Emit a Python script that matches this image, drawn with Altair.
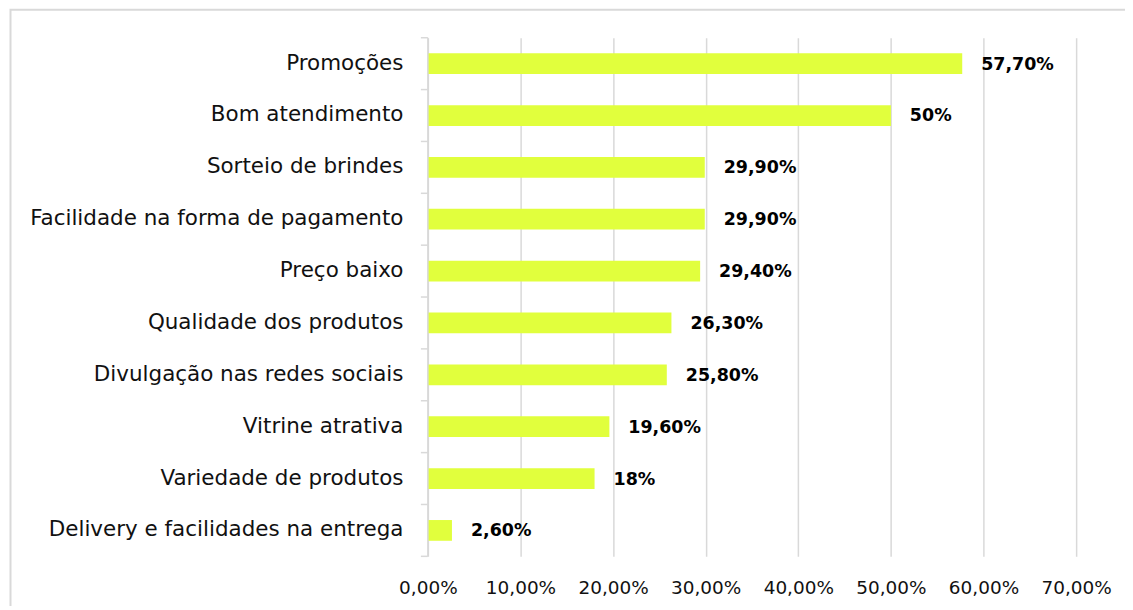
import altair as alt
import pandas as pd

categories = [
    "Promoções",
    "Bom atendimento",
    "Sorteio de brindes",
    "Facilidade na forma de pagamento",
    "Preço baixo",
    "Qualidade dos produtos",
    "Divulgação nas redes sociais",
    "Vitrine atrativa",
    "Variedade de produtos",
    "Delivery e facilidades na entrega",
]
values = [57.7, 50.0, 29.9, 29.9, 29.4, 26.3, 25.8, 19.6, 18.0, 2.6]
value_labels = ["57,70%", "50%", "29,90%", "29,90%", "29,40%", "26,30%",
                "25,80%", "19,60%", "18%", "2,60%"]
x_ticks = [0, 10, 20, 30, 40, 50, 60, 70]

df = pd.DataFrame({"cat": categories, "val": values, "lab": value_labels})

GRAY = "#d9d9d9"
BAR = "#E1FF3D"
FONT = "DejaVu Sans"

y_enc = alt.Y(
    "cat:N",
    sort=categories,
    title=None,
    scale=alt.Scale(paddingInner=0.6, paddingOuter=0.3),
    axis=alt.Axis(
        grid=False,
        domain=False,
        ticks=False,
        labelPadding=25,
        labelFont=FONT,
        labelFontSize=21.5,
        labelColor="#111111",
        labelLimit=600,
    ),
)

x_enc = alt.X(
    "val:Q",
    title=None,
    scale=alt.Scale(domain=[0, 70], nice=False, zero=True),
    axis=alt.Axis(
        values=x_ticks,
        grid=True,
        gridColor=GRAY,
        gridWidth=1.5,
        domain=False,
        ticks=False,
        labelPadding=22,
        labelFlush=False,
        labelOverlap=False,
        labelFont=FONT,
        labelFontSize=18.5,
        labelColor="#111111",
        labelExpr="replace(format(datum.value, '.2f'), '.', ',') + '%'",
    ),
)

base = alt.Chart(df)

bars = base.mark_bar(color=BAR).encode(x=x_enc, y=y_enc)

text = base.mark_text(
    align="left", baseline="middle", dx=19, dy=1,
    font=FONT, fontSize=17.5, fontWeight="bold", color="#000000"
).encode(x="val:Q", y=alt.Y("cat:N", sort=categories), text="lab:N")

one = pd.DataFrame({"a": [0]})

border = alt.Chart(one).mark_rect(
    filled=False, stroke=GRAY, strokeWidth=2
).encode(
    x=alt.value(-418.5), x2=alt.value(2000),
    y=alt.value(-28.0), y2=alt.value(2000),
)

# y-axis line and category separator ticks (on an unpadded band scale)
step_scale = alt.Scale(paddingInner=0, paddingOuter=0)
tick_top = base.mark_rule(color=GRAY, strokeWidth=1.5).encode(
    y=alt.Y("cat:N", sort=categories, scale=step_scale, bandPosition=0, axis=None),
    x=alt.value(-7), x2=alt.value(0),
)
tick_bottom = alt.Chart(df.tail(1)).mark_rule(color=GRAY, strokeWidth=1.5).encode(
    y=alt.Y("cat:N", sort=categories, scale=step_scale, bandPosition=1, axis=None),
    x=alt.value(-7), x2=alt.value(0),
)
domain_line = alt.Chart(one).mark_rule(color=GRAY, strokeWidth=1.5).encode(
    x=alt.value(0), y=alt.value(0), y2=alt.value(520)
)

main = alt.layer(border, bars, text)
ticks = alt.layer(tick_top, tick_bottom, domain_line)

chart = alt.layer(main, ticks).resolve_scale(y="independent").properties(
    width=650,
    height=520,
    autosize=alt.AutoSizeParams(type="none"),
    padding={"left": 421, "top": 29, "right": 49, "bottom": 49},
).configure_view(stroke=None)

chart.save("out.html", embed_options={"renderer": "svg", "actions": False})
